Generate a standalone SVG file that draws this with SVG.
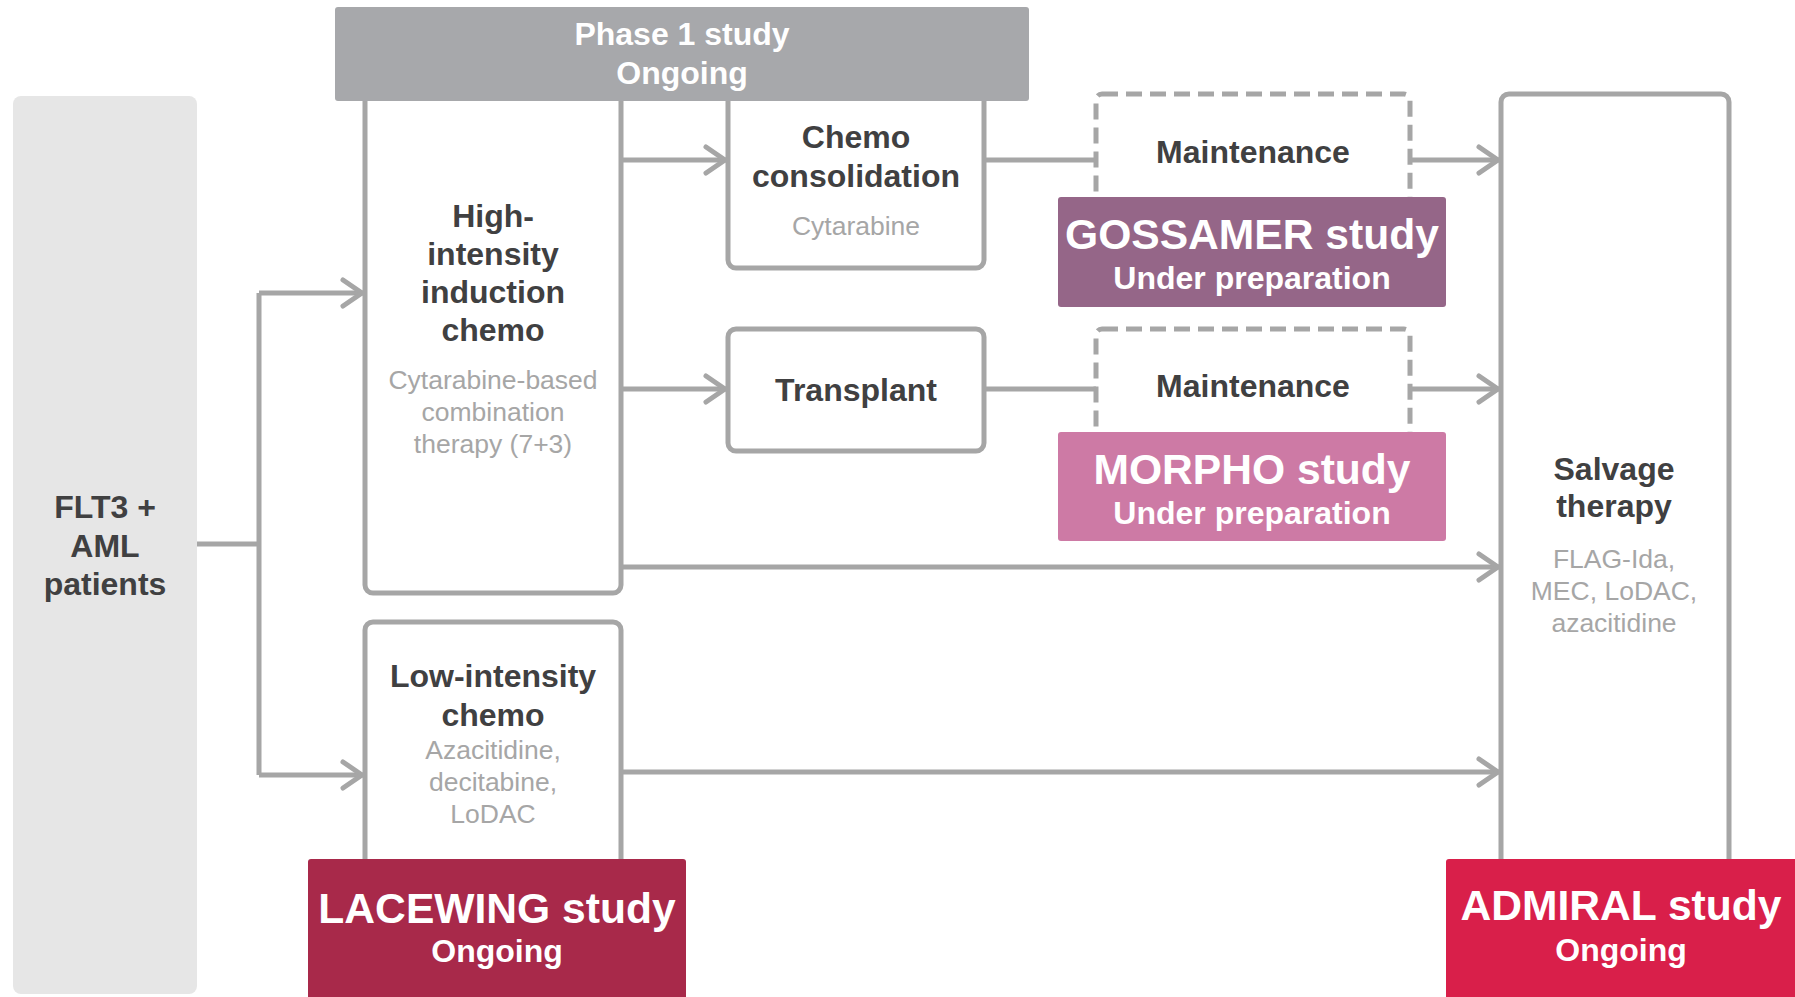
<svg xmlns="http://www.w3.org/2000/svg" width="1795" height="997" viewBox="0 0 1795 997">
<style>
text{font-family:"Liberation Sans",Arial,sans-serif;text-anchor:middle}
.t{font-weight:bold;font-size:32px;fill:#404041}
.s{font-size:26.5px;fill:#a6a6a6}
.w{font-weight:bold;fill:#ffffff}
.big{font-size:42.6px}
.mid{font-size:32px}
.box{fill:#ffffff;stroke:#a6a6a6;stroke-width:5}
.dash{fill:#ffffff;stroke:#a6a6a6;stroke-width:5;stroke-dasharray:16 8}
.c{fill:none;stroke:#a6a6a6;stroke-width:5}
</style>
<defs>
<marker id="ah" markerUnits="userSpaceOnUse" markerWidth="30" markerHeight="34" viewBox="0 0 30 34" refX="24" refY="17" orient="auto">
<path d="M4,4 L23,17 L4,30" fill="none" stroke="#a6a6a6" stroke-width="5" stroke-linecap="round" stroke-linejoin="round"/>
</marker>
</defs>
<rect width="1795" height="997" fill="#ffffff"/>
<g id="flt3">
<rect x="13" y="96" width="184" height="898" rx="8" fill="#e6e6e6"/>
<text class="t" x="105" y="518">FLT3 +</text>
<text class="t" x="105" y="557">AML</text>
<text class="t" x="105" y="595">patients</text>
</g>
<g id="connectors">
<path class="c" d="M197,544 H259"/>
<path class="c" d="M259,293 V775"/>
<path class="c" d="M259,293 H363" marker-end="url(#ah)"/>
<path class="c" d="M259,775 H363" marker-end="url(#ah)"/>
<path class="c" d="M622,160 H726" marker-end="url(#ah)"/>
<path class="c" d="M622,389 H726" marker-end="url(#ah)"/>
<path class="c" d="M984,160 H1096"/>
<path class="c" d="M984,389 H1096"/>
<path class="c" d="M1410,160 H1499" marker-end="url(#ah)"/>
<path class="c" d="M1410,389 H1499" marker-end="url(#ah)"/>
<path class="c" d="M622,567 H1499" marker-end="url(#ah)"/>
<path class="c" d="M622,772 H1499" marker-end="url(#ah)"/>
</g>
<g id="high">
<rect class="box" x="365" y="60" width="256" height="533" rx="8"/>
<text class="t" x="493" y="227">High-</text>
<text class="t" x="493" y="265">intensity</text>
<text class="t" x="493" y="303">induction</text>
<text class="t" x="493" y="341">chemo</text>
<text class="s" x="493" y="389">Cytarabine-based</text>
<text class="s" x="493" y="421">combination</text>
<text class="s" x="493" y="453">therapy (7+3)</text>
</g>
<g id="consolidation">
<rect class="box" x="728" y="60" width="256" height="208" rx="8"/>
<text class="t" x="856" y="148">Chemo</text>
<text class="t" x="856" y="187">consolidation</text>
<text class="s" x="856" y="235">Cytarabine</text>
</g>
<g id="phase1">
<rect x="335" y="7" width="694" height="94" rx="3" fill="#a7a8ab"/>
<text class="w mid" x="682" y="45">Phase 1 study</text>
<text class="w mid" x="682" y="84">Ongoing</text>
</g>
<g id="transplant">
<rect class="box" x="728" y="329" width="256" height="122" rx="8"/>
<text class="t" x="856" y="401">Transplant</text>
</g>
<g id="maint1">
<rect class="dash" x="1096" y="94" width="314" height="150" rx="6"/>
<text class="t" x="1253" y="163">Maintenance</text>
</g>
<g id="gossamer">
<rect x="1058" y="197" width="388" height="110" rx="3" fill="#956688"/>
<text class="w big" x="1252" y="249">GOSSAMER study</text>
<text class="w mid" x="1252" y="289">Under preparation</text>
</g>
<g id="maint2">
<rect class="dash" x="1096" y="329" width="314" height="150" rx="6"/>
<text class="t" x="1253" y="397">Maintenance</text>
</g>
<g id="morpho">
<rect x="1058" y="432" width="388" height="109" rx="3" fill="#cd7aa5"/>
<text class="w big" x="1252" y="484">MORPHO study</text>
<text class="w mid" x="1252" y="524">Under preparation</text>
</g>
<g id="low">
<rect class="box" x="365" y="622" width="256" height="300" rx="8"/>
<text class="t" x="493" y="687">Low-intensity</text>
<text class="t" x="493" y="726">chemo</text>
<text class="s" x="493" y="759">Azacitidine,</text>
<text class="s" x="493" y="791">decitabine,</text>
<text class="s" x="493" y="823">LoDAC</text>
</g>
<g id="lacewing">
<rect x="308" y="859" width="378" height="145" rx="3" fill="#a8294a"/>
<text class="w big" x="497" y="923">LACEWING study</text>
<text class="w mid" x="497" y="962">Ongoing</text>
</g>
<g id="salvage">
<rect class="box" x="1501" y="94" width="228" height="850" rx="8"/>
<text class="t" x="1614" y="480">Salvage</text>
<text class="t" x="1614" y="517">therapy</text>
<text class="s" x="1614" y="568">FLAG-Ida,</text>
<text class="s" x="1614" y="600">MEC, LoDAC,</text>
<text class="s" x="1614" y="632">azacitidine</text>
</g>
<g id="admiral">
<rect x="1446" y="859" width="355" height="145" rx="3" fill="#d91f4a"/>
<text class="w big" x="1621" y="920">ADMIRAL study</text>
<text class="w mid" x="1621" y="961">Ongoing</text>
</g>
</svg>
